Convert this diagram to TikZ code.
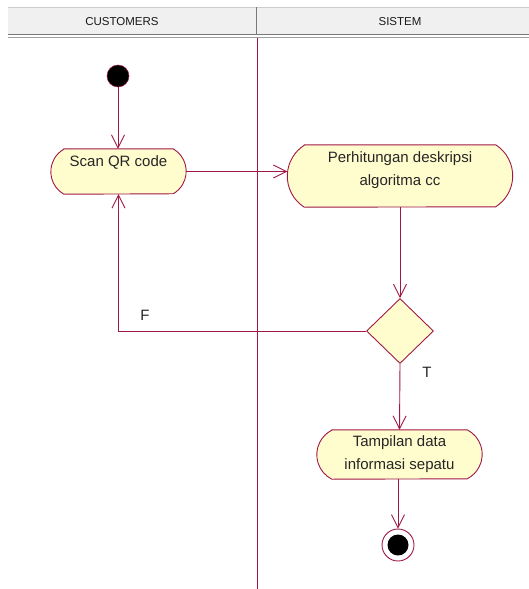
\documentclass[tikz,border=0pt]{standalone}
\usepackage{fontspec}
\setmainfont{Liberation Sans}
\usetikzlibrary{arrows.meta,shapes.geometric}
\definecolor{umlline}{RGB}{160,24,72}
\definecolor{umlfill}{RGB}{255,252,206}
\definecolor{hdrfill}{RGB}{240,240,240}
\definecolor{hdrline}{RGB}{120,120,120}
\tikzset{
  actionframe/.style={inner sep=0pt},
  outline/.style={draw=umlline, fill=umlfill, line width=0.9pt},
  actiontext/.style={font=\fontsize{15}{23}\selectfont, align=center, text=black!85, inner sep=0pt},
  decision/.style={draw=umlline, fill=umlfill, line width=0.9pt, diamond, inner sep=0pt, minimum width=67pt, minimum height=65pt},
  flow/.style={draw=umlline, line width=0.9pt, -{Straight Barb[length=13pt, width=13pt, line width=0.9pt]}},
  guard/.style={font=\fontsize{15}{17}\selectfont, text=black!85, inner sep=0pt},
  lanehead/.style={font=\fontsize{11.5}{13}\selectfont, text=black!90, inner sep=0pt}
}
% activity outline with bulging arc ends:
% #1 node name, #2 depth of the arc, #3 arc radius, #4 half opening angle
\newcommand\activityoutline[4]{%
  \draw[outline] ([xshift=#2pt]#1.north west) -- ([xshift=-#2pt]#1.north east)
    arc[start angle=#4, end angle=-#4, radius=#3pt]
    -- ([xshift=#2pt]#1.south west)
    arc[start angle=180+#4, end angle=180-#4, radius=#3pt] -- cycle;}
\begin{document}
\begin{tikzpicture}[x=1pt, y=-1pt]
\useasboundingbox (0,0) rectangle (529,589);
\fill[white] (0,0) rectangle (529,589);

% swimlane header
\fill[hdrfill] (8,7) rectangle (529,34);
\draw[black!20, line width=0.6pt] (8,7) -- (529,7);
\draw[hdrline, line width=1pt] (8,34.5) -- (529,34.5);
\draw[hdrline!70, line width=1pt] (8,37) -- (529,37);
\draw[hdrline, line width=1pt] (256,7) -- (256,35);
\node[lanehead] (laneA) at (122,21.5) {CUSTOMERS};
\node[lanehead] (laneB) at (400,21.5) {SISTEM};

% lane separator
\draw[umlline, line width=0.9pt] (257,38) -- (257,589);

% initial state
\node[circle, fill=black, draw=umlline, line width=0.5pt, minimum size=22pt, inner sep=0pt] (start) at (118,76) {};

% actions
\node[actionframe, minimum width=135pt, minimum height=45pt] (scan) at (118.5,171.5) {};
\activityoutline{scan}{13}{25.97}{60}
\node[actiontext] (scantxt) at (118.5,162) {Scan QR code};

\node[actionframe, minimum width=225pt, minimum height=62pt] (perh) at (400,176) {};
\activityoutline{perh}{17}{36.76}{57.5}
\node[actiontext] (perhtxt) at (400,170) {Perhitungan deskripsi\\algoritma cc};

\node[decision] (dec) at (400,331) {};

\node[actionframe, minimum width=165pt, minimum height=49pt] (tamp) at (399.5,454.5) {};
\activityoutline{tamp}{15}{27.5}{63}
\node[actiontext] (tamptxt) at (399.5,454) {Tampilan data\\informasi sepatu};

% final state
\node[circle, draw=umlline, fill=white, line width=0.9pt, minimum size=32pt, inner sep=0pt] (final) at (398,545) {};
\node[circle, fill=black, minimum size=21pt, inner sep=0pt] (finalin) at (final.center) {};

% control flows
\draw[flow] (start) -- (start |- scan.north);
\draw[flow] (scan.east) -- (scan.east -| perh.west);
\draw[flow] (perh.south) -- (dec.north);
\draw[flow] (dec.west) -| (scan.south);
\draw[flow] (dec.south) -- (tamp.north);
\draw[flow] (tamp.south -| final.north) -- (final.north);

% guards
\node[guard] (gF) at (145,315) {F};
\node[guard] (gT) at (427,372) {T};
\end{tikzpicture}
\end{document}
